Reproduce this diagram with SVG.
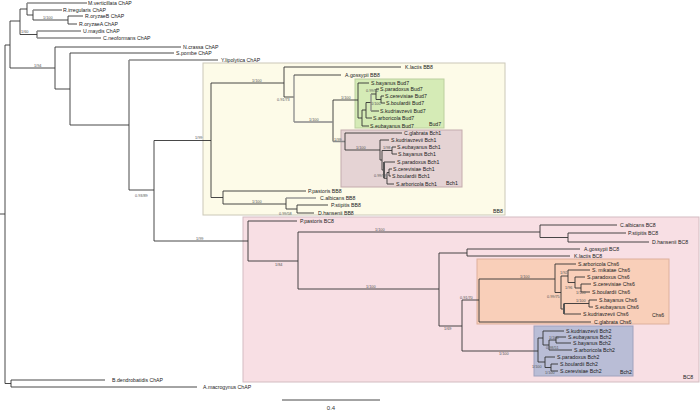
<svg xmlns="http://www.w3.org/2000/svg" width="700" height="412" viewBox="0 0 700 412">
<style>
.t{font-family:"Liberation Sans",Arial,sans-serif;font-size:5.2px;fill:#222}
.s{font-family:"Liberation Sans",Arial,sans-serif;font-size:3.8px;fill:#555}
.c{font-family:"Liberation Sans",Arial,sans-serif;font-size:6px;fill:#333}
.b{fill:none;stroke:#333;stroke-width:0.9}
.g{fill:none;stroke:#8a8a8a;stroke-width:1.3}
.k{fill:none;stroke:#555;stroke-width:2}
</style>
<rect width="700" height="412" fill="#fff"/>
<g id="box-BB8"><rect x="203" y="63" width="302" height="152" fill="#fdfbe8" stroke="#cbc8b8" stroke-width="1"/><text class="t" x="493" y="213">BB8</text></g>
<g id="box-BC8"><rect x="243" y="217" width="456" height="165" fill="#f8dfe4" stroke="#d3bcc1" stroke-width="1"/><text class="t" x="683" y="379">BC8</text></g>
<g id="box-Bud7"><rect x="355" y="79" width="89" height="49" fill="#d5ebb6" stroke="#bccf9f" stroke-width="1"/><text class="t" x="429" y="126">Bud7</text></g>
<g id="box-Bch1"><rect x="341" y="130" width="121" height="57" fill="#e5d3d4" stroke="#c4abad" stroke-width="1"/><text class="t" x="446" y="185">Bch1</text></g>
<g id="box-Chs6"><rect x="477" y="259" width="192" height="65" fill="#f9cfb9" stroke="#ddb09c" stroke-width="1"/><text class="t" x="652" y="317">Chs6</text></g>
<g id="box-Bch2"><rect x="534" y="326" width="99" height="50" fill="#b9bdd6" stroke="#9fa2bd" stroke-width="1"/><text class="t" x="620" y="374">Bch2</text></g>

<g id="connectors">
<path class="b" d="M0 214H5M5 45V383.5M5 45H10M10 21V68M10 21H20M20 9V34.5M20 9H27M27 3V15M27 15H33M33 10V20M33 20H68M68 16V24M68 16H83M68 24H77M20 34.5H37M37 31V38M10 68H55M55 47V89M55 47H181M55 89H70M70 53V125M70 53H174M70 125H129M129 60V190M129 190H154M154 140.5V241M154 140.5H211M211 83V197.5M211 83H284M284 67V97M284 67H401M284 97H294M333 100V141.5M333 100H358"/>
<path class="g" d="M27 3H87M33 10H62M37 31H81M37 38H101M129 60H218M294 75V122M294 122H333M333 141.5H345"/>
<path class="b" d="M294 75H341"/>
<path class="b" d="M358 83V118M358 83H369M358 118H362M362 110V126M362 126H369M362 110H366M366 102.5V118M366 118H372M366 102.5H371M371 111H379M371 94H376M376 89V99.5M376 89H379M376 99.5H381M381 96V103M381 96H384M381 103H385"/>
<path class="g" d="M371 94V111"/>
<path class="b" d="M345 133V150M345 133H402M345 150H380M380 140V160M380 140H389M380 160H382M382 150.5V170M382 150.5H392M392 147V154M392 147H396M392 154H397M382 170H384M384 162H395M384 178.25H387M387 172.5V184M387 184H394M387 172.5H389M389 169V176M389 169H392M389 176H391"/>
<path class="k" d="M384 162V178.25"/>
<path class="b" d="M211 197.5H223M223 191V204M223 191H306M223 204H286M286 198V209M286 209H297M297 205V213M297 205H328M297 213H314"/>
<path class="g" d="M286 198H316"/>
<path class="b" d="M154 241H248M248 221V261M248 221H297M248 261H298M298 232V289M298 232H540M540 225V237.5M540 225H617M540 237.5H568M568 233V242M568 233H626M568 242H649M298 289H439M439 253V326M439 253H467M467 249V256M467 249H580M467 256H570M439 326H462M462 300V351M462 300H479M479 279V322M479 279H555M479 322H591"/>
<path class="b" d="M555 264V292.5M555 264H576M555 292.5H561M561 276V309M561 276H568M568 270V282.5M568 270H590M568 282.5H575M575 277V288M575 277H585M575 288H581M581 284V292M581 284H591M581 292H590M561 309H564M564 303.5H589M589 300V307M589 300H597M589 307H593M564 314H581"/>
<path class="k" d="M564 303.5V314"/>
<path class="b" d="M462 351H538M538 338V362M538 338H543M543 331V345M543 331H564M543 345H549M549 340V350M549 340H556M556 337V343M556 337H566M556 343H571M549 350H572M538 362H545M545 357V367.5M545 357H555M545 367.5H551M551 364V371M551 364H558M551 371H558"/>
<path class="b" d="M5 383.5H11M11 380V387M11 380H105M11 387H197"/>
<path class="b" d="M282 400H380"/>
</g>

<g id="support">
<text class="s" x="43" y="18.5">1/100</text>
<text class="s" x="21" y="33">1/60</text>
<text class="s" x="34" y="66.5">1/94</text>
<text class="s" x="135" y="197">0.93/89</text>
<text class="s" x="195" y="138.5">1/99</text>
<text class="s" x="252" y="81.5">1/100</text>
<text class="s" x="277" y="101">0.91/73</text>
<text class="s" x="309" y="120.5">1/100</text>
<text class="s" x="341" y="98.5">1/100</text>
<text class="s" x="366" y="91.5">0.99/52</text>
<text class="s" x="371" y="105">1/100</text>
<text class="s" x="334" y="141">1/99</text>
<text class="s" x="356" y="148.5">1/100</text>
<text class="s" x="383" y="149">1/98</text>
<text class="s" x="374" y="177">0.99/58</text>
<text class="s" x="252" y="202.5">1/100</text>
<text class="s" x="279" y="215">0.99/58</text>
<text class="s" x="196" y="239.5">1/99</text>
<text class="s" x="275" y="266">1/84</text>
<text class="s" x="375" y="230.5">1/100</text>
<text class="s" x="366" y="287.5">1/100</text>
<text class="s" x="444" y="330">1/69</text>
<text class="s" x="460" y="298.5">0.91/70</text>
<text class="s" x="520" y="277.5">1/100</text>
<text class="s" x="560" y="274">1/92</text>
<text class="s" x="565" y="288.5">1/96</text>
<text class="s" x="576" y="293.5">1/100</text>
<text class="s" x="547" y="298">0.99/75</text>
<text class="s" x="576" y="302">1/100</text>
<text class="s" x="499" y="355">1/100</text>
<text class="s" x="549" y="339">1/100</text>
<text class="s" x="546" y="348.5">0.98/51</text>
<text class="s" x="532" y="368">1/100</text>
<text class="s" x="545" y="373.5">1/100</text>
</g>

<g id="leaf-Mver"><text class="t" x="88" y="4.8">M.verticillata ChAP</text></g>
<g id="leaf-Rirr"><text class="t" x="63" y="11.8">R.irregularis ChAP</text></g>
<g id="leaf-RoryB"><text class="t" x="85" y="17.8">R.oryzaeB ChAP</text></g>
<g id="leaf-RoryA"><text class="t" x="79" y="25.8">R.oryzaeA ChAP</text></g>
<g id="leaf-Umay"><text class="t" x="83" y="32.8">U.maydis ChAP</text></g>
<g id="leaf-Cneo"><text class="t" x="103" y="39.8">C.neoformans ChAP</text></g>
<g id="leaf-Ncra"><text class="t" x="183" y="48.8">N.crassa ChAP</text></g>
<g id="leaf-Spom"><text class="t" x="176" y="54.8">S.pombe ChAP</text></g>
<g id="leaf-Ylip"><text class="t" x="221" y="61.8">Y.lipolytica ChAP</text></g>
<g id="leaf-Klac-BB8"><text class="t" x="405" y="68.8">K.lactis BB8</text></g>
<g id="leaf-Agos-BB8"><text class="t" x="345" y="76.8">A.gossypii BB8</text></g>
<g id="leaf-Sbay-Bud7"><text class="t" x="371" y="84.8">S.bayanus Bud7</text></g>
<g id="leaf-Spar-Bud7"><text class="t" x="380" y="90.8">S.paradoxus Bud7</text></g>
<g id="leaf-Scer-Bud7"><text class="t" x="385" y="97.8">S.cerevisiae Bud7</text></g>
<g id="leaf-Sbou-Bud7"><text class="t" x="386" y="104.8">S.boulardii Bud7</text></g>
<g id="leaf-Skud-Bud7"><text class="t" x="380" y="112.8">S.kudriavzevii Bud7</text></g>
<g id="leaf-Sarb-Bud7"><text class="t" x="373" y="119.8">S.arboricola Bud7</text></g>
<g id="leaf-Seub-Bud7"><text class="t" x="370" y="127.6">S.eubayanus Bud7</text></g>
<g id="leaf-Cgla-Bch1"><text class="t" x="404" y="134.8">C.glabrata Bch1</text></g>
<g id="leaf-Skud-Bch1"><text class="t" x="391" y="141.8">S.kudriavzevii Bch1</text></g>
<g id="leaf-Seub-Bch1"><text class="t" x="397" y="148.8">S.eubayanus Bch1</text></g>
<g id="leaf-Sbay-Bch1"><text class="t" x="398" y="155.8">S.bayanus Bch1</text></g>
<g id="leaf-Spar-Bch1"><text class="t" x="397" y="163.8">S.paradoxus Bch1</text></g>
<g id="leaf-Scer-Bch1"><text class="t" x="393" y="170.8">S.cerevisiae Bch1</text></g>
<g id="leaf-Sbou-Bch1"><text class="t" x="392" y="177.8">S.boulardii Bch1</text></g>
<g id="leaf-Sarb-Bch1"><text class="t" x="396" y="185.8">S.arboricola Bch1</text></g>
<g id="leaf-Ppas-BB8"><text class="t" x="308" y="192.8">P.pastoris BB8</text></g>
<g id="leaf-Calb-BB8"><text class="t" x="320" y="199.8">C.albicans BB8</text></g>
<g id="leaf-Psti-BB8"><text class="t" x="331" y="206.8">P.stipitis BB8</text></g>
<g id="leaf-Dhan-BB8"><text class="t" x="318" y="214.8">D.hansenii BB8</text></g>
<g id="leaf-Ppas-BC8"><text class="t" x="300" y="222.8">P.pastoris BC8</text></g>
<g id="leaf-Calb-BC8"><text class="t" x="620" y="226.8">C.albicans BC8</text></g>
<g id="leaf-Psti-BC8"><text class="t" x="628" y="234.8">P.stipitis BC8</text></g>
<g id="leaf-Dhan-BC8"><text class="t" x="652" y="243.8">D.hansenii BC8</text></g>
<g id="leaf-Agos-BC8"><text class="t" x="584" y="250.8">A.gossypii BC8</text></g>
<g id="leaf-Klac-BC8"><text class="t" x="574" y="257.8">K.lactis BC8</text></g>
<g id="leaf-Sarb-Chs6"><text class="t" x="578" y="265.8">S.arboricola Chs6</text></g>
<g id="leaf-Smik-Chs6"><text class="t" x="592" y="271.8">S. mikatae Chs6</text></g>
<g id="leaf-Spar-Chs6"><text class="t" x="587" y="278.8">S.paradoxus Chs6</text></g>
<g id="leaf-Scer-Chs6"><text class="t" x="593" y="285.8">S.cerevisiae Chs6</text></g>
<g id="leaf-Sbou-Chs6"><text class="t" x="592" y="293.8">S.boulardii Chs6</text></g>
<g id="leaf-Sbay-Chs6"><text class="t" x="599" y="301.8">S.bayanus Chs6</text></g>
<g id="leaf-Seub-Chs6"><text class="t" x="595" y="308.8">S.eubayanus Chs6</text></g>
<g id="leaf-Skud-Chs6"><text class="t" x="583" y="315.8">S.kudriavzevii Chs6</text></g>
<g id="leaf-Cgla-Chs6"><text class="t" x="594" y="323.8">C.glabrata Chs6</text></g>
<g id="leaf-Skud-Bch2"><text class="t" x="566" y="332.8">S.kudriavzevii Bch2</text></g>
<g id="leaf-Seub-Bch2"><text class="t" x="568" y="338.8">S.eubayanus Bch2</text></g>
<g id="leaf-Sbay-Bch2"><text class="t" x="573" y="344.8">S.bayanus Bch2</text></g>
<g id="leaf-Sarb-Bch2"><text class="t" x="574" y="351.8">S.arboricola Bch2</text></g>
<g id="leaf-Spar-Bch2"><text class="t" x="557" y="358.8">S.paradoxus Bch2</text></g>
<g id="leaf-Sbou-Bch2"><text class="t" x="560" y="365.8">S.boulardii Bch2</text></g>
<g id="leaf-Scer-Bch2"><text class="t" x="560" y="372.8">S.cerevisiae Bch2</text></g>
<g id="leaf-Bden"><text class="t" x="112" y="381.8">B.dendrobatidis ChAP</text></g>
<g id="leaf-Amac"><text class="t" x="203" y="388.8">A.macrogynus ChAP</text></g>
<g id="scale"><text class="c" x="331" y="410" text-anchor="middle">0.4</text></g>
</svg>
